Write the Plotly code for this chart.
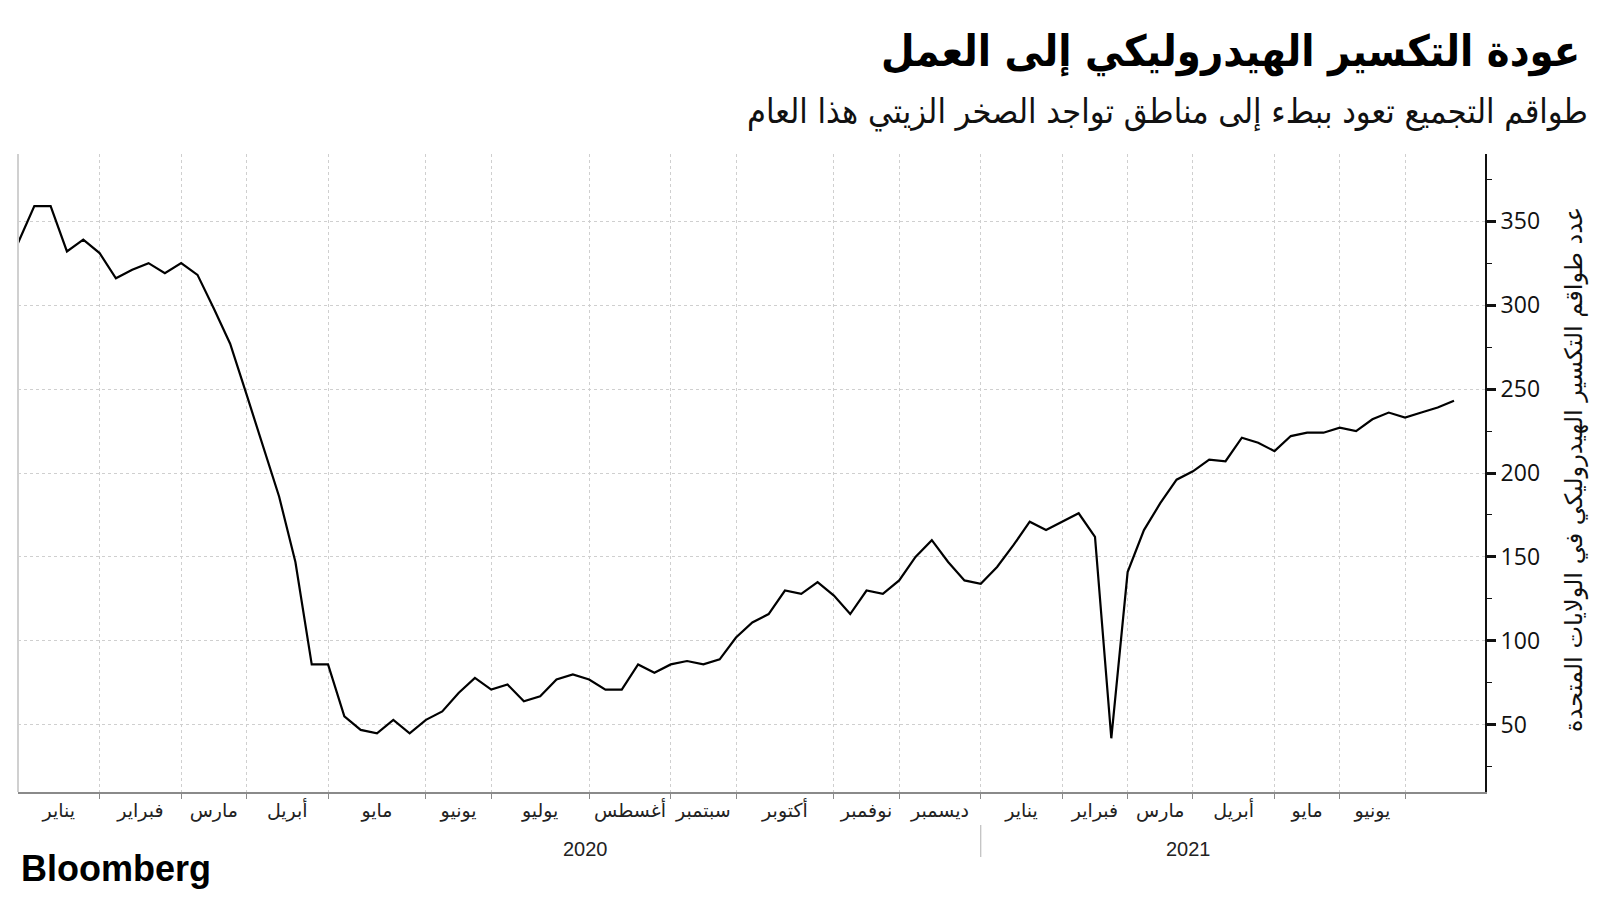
import plotly.graph_objects as go

# ---- data ----
rigs = [337, 359, 359, 332, 339, 331, 316, 321, 325, 319, 325, 318, 298, 277, 247,
        217, 186, 147, 86, 86, 55, 47, 45, 53, 45, 53, 58, 69, 78, 71, 74, 64, 67, 77,
        80, 77, 71, 71, 86, 81, 86, 88, 86, 89, 102, 111, 116, 130, 128, 135, 127, 116,
        130, 128, 136, 150, 160, 147, 136, 134, 144, 157, 171, 166, 171, 176, 162, 42,
        141, 166, 182, 196, 201, 208, 207, 221, 218, 213, 222, 224, 224, 227, 225, 232,
        236, 233, 236, 239, 243]
obs = list(range(len(rigs)))

month_names = ["يناير", "فبراير", "مارس", "أبريل", "مايو", "يونيو", "يوليو", "أغسطس",
               "سبتمبر", "أكتوبر", "نوفمبر", "ديسمبر",
               "يناير", "فبراير", "مارس", "أبريل", "مايو", "يونيو"]
month_start = [0, 5, 10, 14, 19, 25, 29, 35, 40, 44, 50, 54, 59, 64, 68, 72, 77, 81, 85]
years = ["2020", "2021"]
year_label_pos = [34.8, 71.7]
year_break = 59
y_ticks = [50, 100, 150, 200, 250, 300, 350]
y_minor = [25, 75, 125, 175, 225, 275, 325, 375]

title = "عودة التكسير الهيدروليكي إلى العمل"
subtitle = "طواقم التجميع تعود ببطء إلى مناطق تواجد الصخر الزيتي هذا العام"
ytitle = "عدد طواقم التكسير الهيدروليكي في الولايات المتحدة"

# ---- layout geometry ----
W, H = 1600, 900
L, R, T, B = 18, 115, 154, 108
PW, PH = W - L - R, H - T - B


def px(x):
    return (x - L) / PW


def py(y):
    return (H - B - y) / PH


label_pos = [(month_start[i] + month_start[i + 1]) / 2 for i in range(len(month_names))]

ARABIC = "DejaVu Sans, Noto Sans, sans-serif"
COND = "DejaVu Sans Condensed, DejaVu Sans, sans-serif"

fig = go.Figure()
fig.add_trace(go.Scatter(x=obs, y=rigs, mode="lines",
                         line=dict(color="#000000", width=2.2),
                         hoverinfo="skip", showlegend=False))

fig.update_layout(
    width=W, height=H,
    margin=dict(l=L, r=R, t=T, b=B),
    paper_bgcolor="white", plot_bgcolor="white",
    showlegend=False,
    xaxis=dict(
        range=[0, 89.9],
        tickmode="array", tickvals=label_pos, ticktext=month_names,
        ticks="", showgrid=False, zeroline=False,
        showline=True, linecolor="#8a8a8a", linewidth=1.5,
        tickfont=dict(family=ARABIC, size=19, color="#222"),
        minor=dict(tickmode="array", tickvals=month_start[1:], ticks="outside",
                   ticklen=5, tickwidth=1.2, tickcolor="#8a8a8a",
                   showgrid=True, gridcolor="#cfcfcf", griddash="dot", gridwidth=1),
    ),
    yaxis=dict(
        side="right", range=[10, 390],
        tickmode="array", tickvals=y_ticks,
        ticks="outside", ticklen=9, tickwidth=2.5, tickcolor="#111",
        showline=True, linecolor="#111", linewidth=2,
        showgrid=True, gridcolor="#cfcfcf", griddash="dot", gridwidth=1,
        zeroline=False,
        tickfont=dict(family="Open Sans, sans-serif", size=23, color="#111"),
        minor=dict(tickmode="array", tickvals=y_minor, ticks="outside",
                   ticklen=5, tickwidth=1.2, tickcolor="#111", showgrid=False),
    ),
)

# left frame line
fig.add_shape(type="line", xref="paper", yref="paper", x0=0, x1=0, y0=0, y1=1,
              line=dict(color="#d0d0d0", width=2))
# year divider
fig.add_shape(type="line", xref="x", yref="paper", x0=year_break, x1=year_break,
              y0=py(825), y1=py(857), line=dict(color="#b0b0b0", width=1))

ann = []
ann.append(dict(text="<b>" + title + "</b>", xref="paper", yref="paper",
                x=px(1582), y=py(51), xanchor="right", yanchor="middle",
                showarrow=False,
                font=dict(family=COND, size=43, color="#000")))
ann.append(dict(text=subtitle, xref="paper", yref="paper",
                x=px(1590), y=py(111), xanchor="right", yanchor="middle",
                showarrow=False,
                font=dict(family=COND, size=34, color="#111")))
ann.append(dict(text=ytitle, xref="paper", yref="paper",
                x=px(1574), y=py(470), xanchor="center", yanchor="middle",
                textangle=-90, showarrow=False,
                font=dict(family=ARABIC, size=24, color="#111")))
for yl, xp in zip(years, year_label_pos):
    ann.append(dict(text=yl, xref="x", yref="paper", x=xp, y=py(849),
                    xanchor="center", yanchor="middle", showarrow=False,
                    font=dict(family="Liberation Sans, Arial, sans-serif", size=20, color="#222")))
ann.append(dict(text="<b>Bloomberg</b>", xref="paper", yref="paper",
                x=px(19), y=py(869), xanchor="left", yanchor="middle", showarrow=False,
                font=dict(family="Liberation Sans, Arial, sans-serif", size=36, color="#000")))
fig.update_layout(annotations=ann)

fig.write_html("out.html")
